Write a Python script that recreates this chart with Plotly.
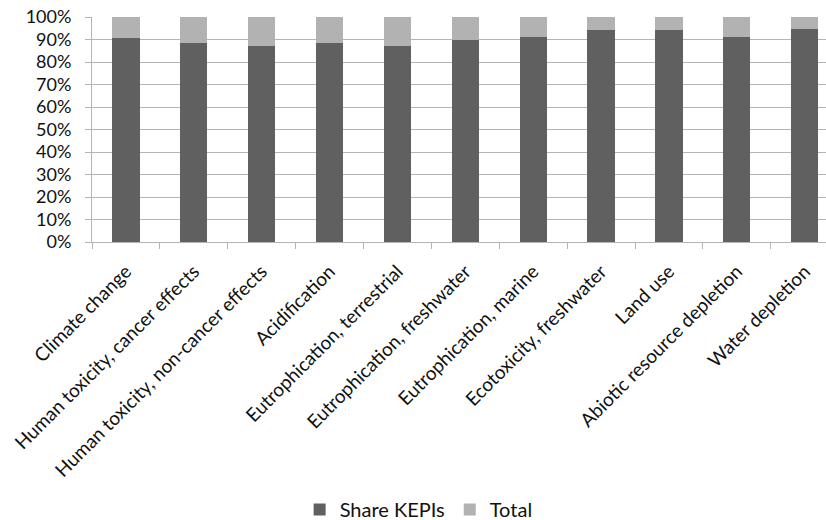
import plotly.graph_objects as go

categories = [
    "Climate change",
    "Human toxicity, cancer effects",
    "Human toxicity, non-cancer effects",
    "Acidification",
    "Eutrophication, terrestrial",
    "Eutrophication, freshwater",
    "Eutrophication, marine",
    "Ecotoxicity, freshwater",
    "Land use",
    "Abiotic resource depletion",
    "Water depletion",
]
share_kepis = [0.907, 0.885, 0.870, 0.885, 0.870, 0.897, 0.911, 0.944, 0.941, 0.911, 0.947]
total = [round(1 - s, 3) for s in share_kepis]
y_ticks = [i / 10 for i in range(11)]

FONT = "Lato"
GRID = "#b4b4b4"

fig = go.Figure()
fig.add_trace(go.Bar(x=categories, y=share_kepis, name="Share KEPIs",
                     marker=dict(color="#606060", line=dict(width=0)), width=0.4))
fig.add_trace(go.Bar(x=categories, y=total, name="Total",
                     marker=dict(color="#b2b2b2", line=dict(width=0)), width=0.4))

fig.update_layout(
    barmode="stack",
    width=826, height=520,
    margin=dict(l=92, r=0, t=17, b=278, autoexpand=False),
    paper_bgcolor="white", plot_bgcolor="white",
    font=dict(family=FONT, size=18, color="#111111"),
    legend=dict(orientation="h", x=0.445, xanchor="center",
                yref="container", y=0.02, yanchor="middle",
                font=dict(size=20), itemwidth=30, traceorder="normal"),
)
fig.update_xaxes(
    type="category", range=[-0.5, 10.314], automargin=False,
    tickangle=-45, tickson="boundaries", ticks="outside", ticklen=6, tickcolor=GRID,
    showline=True, linecolor=GRID, linewidth=1, showgrid=False,
    tickfont=dict(size=19), ticklabelstandoff=10,
)
fig.update_yaxes(
    range=[0, 1], tickvals=y_ticks, tickformat=".0%", automargin=False,
    ticks="outside", ticklen=6, tickcolor=GRID,
    showline=True, linecolor=GRID, linewidth=1,
    showgrid=True, gridcolor=GRID, gridwidth=1, zeroline=False,
    tickfont=dict(size=18), ticklabelstandoff=10,
)

fig.write_html("out.html")
